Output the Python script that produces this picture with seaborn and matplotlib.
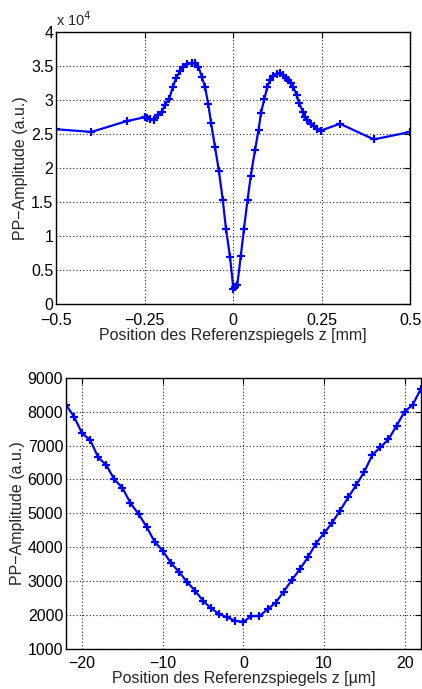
import numpy as np
import pandas as pd
import seaborn as sns
import matplotlib.pyplot as plt
from matplotlib.ticker import FuncFormatter

# top panel: scan over mm range, amplitude in a.u.
z_mm = [-0.5, -0.4, -0.3, -0.25, -0.244, -0.234, -0.223, -0.211, -0.201, -0.192,
        -0.18, -0.17, -0.161, -0.15, -0.14, -0.129, -0.117, -0.107, -0.098, -0.088,
        -0.079, -0.07, -0.062, -0.051, -0.04, -0.029, -0.02, -0.0085, 0.001, 0.006,
        0.012, 0.022, 0.031, 0.041, 0.05, 0.062, 0.072, 0.079, 0.088, 0.097,
        0.105, 0.114, 0.123, 0.133, 0.142, 0.15, 0.156, 0.163, 0.17, 0.18,
        0.187, 0.197, 0.203, 0.21, 0.219, 0.229, 0.238, 0.248, 0.302, 0.398, 0.5]
amp_mm = [25700, 25300, 26900, 27450, 27300, 27200, 27100, 27800, 28300, 29300,
          30200, 31900, 33200, 34200, 34900, 35300, 35400, 35400, 34900, 33400,
          31900, 29400, 26600, 23100, 19600, 15300, 11100, 6900, 2200, 2500,
          2800, 7100, 11100, 15300, 18800, 22600, 25600, 28100, 30100, 31900,
          33000, 33500, 33800, 33900, 33700, 33300, 32900, 32500, 31900, 30700,
          29500, 28300, 27500, 27100, 26500, 26100, 25800, 25500, 26500, 24200, 25300]

# bottom panel: fine scan in um
z_um = list(range(-22, 23))
amp_um = [8200, 7850, 7360, 7160, 6650, 6420, 6000, 5750, 5300, 4980,
          4600, 4160, 3900, 3540, 3280, 2980, 2720, 2420, 2200, 2030,
          1930, 1830, 1800, 1970, 1970, 2170, 2360, 2690, 3030, 3350,
          3700, 4110, 4410, 4720, 5080, 5470, 5830, 6230, 6720, 6950,
          7180, 7580, 8000, 8200, 8660]

df_mm = pd.DataFrame({"z": z_mm, "amp": amp_mm})
df_um = pd.DataFrame({"z": z_um, "amp": amp_um})

sns.set_style("white")
plt.rcParams['font.family'] = ['Liberation Sans', 'DejaVu Sans']
plt.rcParams['font.size'] = 11

fig = plt.figure(figsize=(4.22, 6.89), dpi=100)
ax1 = fig.add_axes([0.1327, 0.5588, 0.839, 0.3948])
ax2 = fig.add_axes([0.1564, 0.0581, 0.8405, 0.3937])

for ax, df in [(ax1, df_mm), (ax2, df_um)]:
    sns.lineplot(data=df, x="z", y="amp", ax=ax, sort=False, estimator=None,
                 color="#0000ff", lw=1.6, marker="+", markersize=6, mew=1.6,
                 mec="#0000ff")
    ax.grid(True, color="#222222", linestyle=(0, (1, 2)), linewidth=0.8)
    ax.tick_params(direction="in", top=True, right=True, length=4,
                   labelsize=11.5, colors="black")
    ax.tick_params(axis="x", pad=5)
    ax.tick_params(axis="y", pad=2)
    for s in ax.spines.values():
        s.set_color("black")
        s.set_linewidth(1.0)
    ax.set_ylabel("PP\u2212Amplitude (a.u.)", fontsize=11.5, labelpad=2)

ax1.tick_params(axis="x", pad=6.5)

ax1.set_xlim(-0.5, 0.5)
ax1.set_ylim(0, 40000)
ax1.set_xticks([-0.5, -0.25, 0, 0.25, 0.5])
ax1.set_yticks(np.arange(0, 40001, 5000))
ax1.xaxis.set_major_formatter(FuncFormatter(lambda v, p: ("%g" % v).replace("-", "\u2212")))
ax1.yaxis.set_major_formatter(FuncFormatter(lambda v, p: "%g" % (v / 1e4)))
ax1.text(0.0, 1.01, r"x 10$^4$", transform=ax1.transAxes, fontsize=10.5,
         ha="left", va="bottom")
ax1.set_xlabel("Position des Referenzspiegels z [mm]", fontsize=11.5, labelpad=0)

ax2.set_xlim(-22, 22)
ax2.set_ylim(1000, 9000)
ax2.set_xticks([-20, -10, 0, 10, 20])
ax2.set_yticks(np.arange(1000, 9001, 1000))
ax2.set_xlabel("Position des Referenzspiegels z [\u00b5m]", fontsize=11.5, labelpad=0)

fig.savefig("out.png", dpi=100, facecolor="white")
